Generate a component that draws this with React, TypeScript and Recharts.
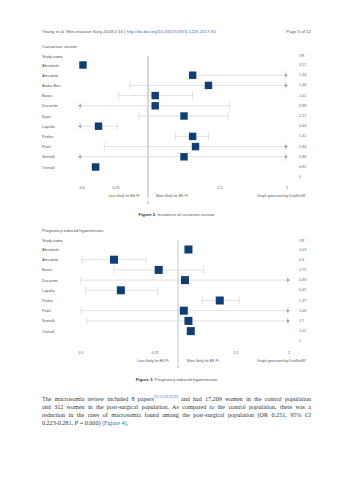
import React from 'react';
import { ScatterChart, Scatter, XAxis, YAxis, ErrorBar, ReferenceLine } from 'recharts';

// ---- Figure 2: Caesarean section ----
const csStudies = ['Abumlaile', 'Amsalem', 'Andra-Bori', 'Baros', 'Ducarme', 'Kjaer', 'Lapolla', 'Parker', 'Patel', 'Santulli', 'Overall'];
const csOrLabels = ['0.52', '1.34', '1.46', '1.01', '0.98', '1.21', '0.44', '1.32', '1.84', '0.86', '0.82'];
const csEst = [0.41, 1.31, 1.42, 1.05, 1.05, 1.25, 0.57, 1.31, 1.33, 1.25, 0.54];
const csLow = [0.41, 1.31, 0.86, 0.77, 0.3, 0.93, 0.3, 1.19, 0.63, 0.3, 0.5];
const csHigh = [0.41, 2.5, 2.5, 1.31, 1.57, 1.56, 0.76, 1.42, 2.5, 2.5, 0.58];
const csTicks = [0.4, 0.75, 1, 1.5, 2];
const csTickLabels = ['0.4', '0.75', '1', '1.5', '2'];

// ---- Figure 3: Pregnancy-induced hypertension ----
const pihStudies = ['Abumlaile', 'Amsalem', 'Baros', 'Ducarme', 'Lapolla', 'Parker', 'Patel', 'Santulli', 'Overall'];
const pihOrLabels = ['1.03', '0.3', '0.75', '0.93', '0.35', '1.37', '1.08', '1.7', '1.01'];
const pihEst = [1.09, 0.39, 0.79, 1.06, 0.45, 1.36, 1.05, 1.09, 1.11];
const pihLow = [1.09, 0.11, 0.39, 0.1, 0.14, 1.21, 0.1, 0.15, 1.09];
const pihHigh = [1.09, 0.67, 1.22, 2.5, 0.78, 1.53, 2.5, 2.5, 1.13];
const pihTicks = [0.1, 0.75, 1, 1.5, 2];
const pihTickLabels = ['0.1', '0.75', '1', '1.5', '2'];

const headerLeft = 'Young et al. Mini-invasive Surg 2018;2:16';
const headerLink = 'http://dx.doi.org/10.20517/2574-1225.2017.50';
const headerPage = 'Page 5 of 12';
const footerLabels = ['Less likely for BS Pt', 'More likely for BS Pt', 'Graph generated by DistillerSR'];

const SANS = '"Liberation Sans", Arial, sans-serif';
const SERIF = '"Liberation Serif", "Times New Roman", serif';

type FP = {
  studies: string[]; orLabels: string[]; est: number[]; low: number[]; high: number[];
  ticks: number[]; tickLabels: string[]; tickPx: number[];
  top: number; height: number; left: number; right: number; domain: [number, number];
  yDomain: [number, number]; mTop: number; mBottom: number;
  labelOff: number; oneOff: number; refFrom: number; refTo: number; refColor: string;
  zeroColor: string; markerSize: number;
};

function makeT(vals: number[], px: number[]) {
  return (v: number) => {
    const n = vals.length;
    let i = 0;
    if (v <= vals[0]) i = 0;
    else if (v >= vals[n - 1]) i = n - 2;
    else { while (i < n - 2 && v > vals[i + 1]) i++; }
    return px[i] + ((v - vals[i]) / (vals[i + 1] - vals[i])) * (px[i + 1] - px[i]);
  };
}

function Forest(p: FP) {
  const t = makeT(p.ticks, p.tickPx);
  const minPx = p.tickPx[0] - 2;
  const maxPx = p.tickPx[p.tickPx.length - 1] - 1;
  const clamp = (x: number) => Math.max(minPx, Math.min(maxPx, x));
  const data = p.studies.map((s, i) => {
    const x = t(p.est[i]);
    const lo = clamp(t(p.low[i]));
    const hi = clamp(t(p.high[i]));
    return { x, y: i, err: [x - lo, hi - x] };
  });
  const leftArrows = p.studies.map((s, i) => ({ x: minPx, y: i, out: p.low[i] < p.ticks[0] })).filter((d) => d.out);
  const rightArrows = p.studies.map((s, i) => ({ x: maxPx, y: i, out: p.high[i] > p.ticks[p.ticks.length - 1] })).filter((d) => d.out);
  const xTicks = p.ticks.map(t);
  const yTicks = [-0.85, ...p.studies.map((s, i) => i), p.studies.length];

  const RowTick = (props: any) => {
    const { y, payload } = props;
    const v = Math.round(payload.value * 100) / 100;
    let name = '';
    let or = '';
    let orColor = '#666';
    if (v < 0) { name = 'Study name'; or = 'OR'; }
    else if (v < p.studies.length) { name = p.studies[Math.round(v)]; or = p.orLabels[Math.round(v)]; }
    else { or = '0'; orColor = p.zeroColor; }
    return (
      <g>
        <text x={42} y={y} dominantBaseline="central" fontSize={3.9} fill="#555" fontFamily={SANS}>{name}</text>
        <text x={299} y={y} dominantBaseline="central" fontSize={3.7} fill={orColor} fontFamily={SANS}>{or}</text>
      </g>
    );
  };

  const XTick = (props: any) => {
    const { x, y, payload } = props;
    let idx = 0;
    let best = 1e9;
    xTicks.forEach((tv, i) => { const d = Math.abs(tv - payload.value); if (d < best) { best = d; idx = i; } });
    const isOne = p.ticks[idx] === 1;
    return (
      <text x={x} y={y + (isOne ? p.oneOff : p.labelOff)} textAnchor="middle" dominantBaseline="central" fontSize={3.7} fill="#555" fontFamily={SANS}>
        {p.tickLabels[idx]}
      </text>
    );
  };

  const square = (sp: any) => (
    <rect x={sp.cx - p.markerSize / 2} y={sp.cy - p.markerSize / 2} width={p.markerSize} height={p.markerSize} fill="#0d3e74" />
  );
  const leftTri = (sp: any) => (
    <polygon points={`${sp.cx - 2},${sp.cy} ${sp.cx + 1.2},${sp.cy - 1.8} ${sp.cx + 1.2},${sp.cy + 1.8}`} fill="#9aa0a6" />
  );
  const rightTri = (sp: any) => (
    <polygon points={`${sp.cx + 2},${sp.cy} ${sp.cx - 1.2},${sp.cy - 1.8} ${sp.cx - 1.2},${sp.cy + 1.8}`} fill="#9aa0a6" />
  );
  const xOne = t(1);

  return (
    <div style={{ position: 'absolute', left: 0, top: p.top }}>
      <ScatterChart width={353} height={p.height} margin={{ top: p.mTop, right: p.right, bottom: p.mBottom, left: p.left - 1 }}>
        <XAxis type="number" dataKey="x" domain={p.domain} allowDataOverflow ticks={xTicks} interval={0}
          axisLine={false} tickLine={false} tickSize={0} tickMargin={0} height={20} tick={XTick} />
        <YAxis type="number" dataKey="y" domain={p.yDomain} allowDataOverflow reversed ticks={yTicks} interval={0}
          width={1} axisLine={false} tickLine={false} tickSize={0} tickMargin={0} tick={RowTick} />
        <ReferenceLine segment={[{ x: xOne, y: p.refFrom }, { x: xOne, y: p.refTo }]} stroke={p.refColor} strokeWidth={1} ifOverflow="visible" />
        <Scatter data={data} isAnimationActive={false} shape={square}>
          <ErrorBar dataKey="err" direction="x" width={4} stroke="#d6d9dc" strokeWidth={0.8} isAnimationActive={false} />
        </Scatter>
        <Scatter data={leftArrows} isAnimationActive={false} shape={leftTri} />
        <Scatter data={rightArrows} isAnimationActive={false} shape={rightTri} />
      </ScatterChart>
    </div>
  );
}

function Txt(props: { x: number; y: number; size: number; children: any; color?: string; anchor?: 'start' | 'middle' | 'end'; weight?: number; family?: string }) {
  const { x, y, size, children, color = '#555', anchor = 'start', weight = 400, family = SANS } = props;
  const tx = anchor === 'middle' ? '-50%' : anchor === 'end' ? '-100%' : '0';
  return (
    <div style={{ position: 'absolute', left: x, top: y, transform: `translate(${tx}, -50%)`, fontSize: size, lineHeight: 1, color, fontWeight: weight, fontFamily: family, whiteSpace: 'nowrap' }}>
      {children}
    </div>
  );
}

export default function App() {
  const lineStyle: React.CSSProperties = { position: 'absolute', left: 42, width: 269, fontFamily: SERIF, fontSize: 6.1, lineHeight: '8px', color: '#333', whiteSpace: 'nowrap', textAlign: 'justify', textAlignLast: 'justify' as any };
  const blue = '#2f6db5';
  return (
    <div style={{ position: 'absolute', left: 0, top: 0, width: 353, height: 480, background: '#fff', overflow: 'hidden' }}>
      <Txt x={42} y={31.5} size={4.4} color="#555">
        {headerLeft} | <span style={{ color: blue }}>{headerLink}</span>
      </Txt>
      <Txt x={311} y={31.5} size={4.4} anchor="end">{headerPage}</Txt>
      <Txt x={42} y={46.5} size={4.2}>Caesarean section</Txt>

      <Forest studies={csStudies} orLabels={csOrLabels} est={csEst} low={csLow} high={csHigh}
        ticks={csTicks} tickLabels={csTickLabels} tickPx={[0, 34, 66, 138, 205]}
        top={45} height={165} left={78} right={64} domain={[-4, 207]}
        yDomain={[-1.5, 11.5]} mTop={4.7} mBottom={7.7}
        labelOff={5.2} oneOff={20.5} refFrom={-0.9} refTo={13.0} refColor="#a9aeb3"
        zeroColor="#777" markerSize={7.4} />
      <Txt x={124} y={196.8} size={3.5} anchor="middle">{footerLabels[0]}</Txt>
      <Txt x={156} y={196.8} size={3.5}>{footerLabels[1]}</Txt>
      <Txt x={257} y={196.8} size={3.5}>{footerLabels[2]}</Txt>
      <Txt x={176.5} y={214.5} size={4.3} anchor="middle">
        <b style={{ color: '#333' }}>Figure 2.</b> Incidence of cesarean section
      </Txt>

      <Txt x={42} y={230.5} size={4.2}>Pregnancy-induced hypertension</Txt>
      <Forest studies={pihStudies} orLabels={pihOrLabels} est={pihEst} low={pihLow} high={pihHigh}
        ticks={pihTicks} tickLabels={pihTickLabels} tickPx={[0, 74, 97, 155, 208]}
        top={230} height={150} left={77} right={62} domain={[-4, 210]}
        yDomain={[-1.5, 9.5]} mTop={4.2} mBottom={13.6}
        labelOff={6.6} oneOff={20.4} refFrom={-0.95} refTo={11.2} refColor="#b7c8d6"
        zeroColor="#e06a6a" markerSize={8} />
      <Txt x={153} y={361.8} size={3.5} anchor="middle">{footerLabels[0]}</Txt>
      <Txt x={187} y={361.8} size={3.5}>{footerLabels[1]}</Txt>
      <Txt x={257} y={361.8} size={3.5}>{footerLabels[2]}</Txt>
      <Txt x={176.5} y={380} size={4.3} anchor="middle">
        <b style={{ color: '#333' }}>Figure 3.</b> Pregnancy induced hypertension
      </Txt>

      <div style={{ ...lineStyle, top: 394.5 }}>
        The macrosomia review included 8 papers<sup style={{ fontSize: 3.6, color: blue, verticalAlign: 'top', lineHeight: '4px' }}>[21-23,26,28,29]</sup> and had 17,209 women in the control population
      </div>
      <div style={{ ...lineStyle, top: 402.7 }}>
        and 312 women in the post-surgical population. As compared to the control population, there was a
      </div>
      <div style={{ ...lineStyle, top: 410.5 }}>
        reduction in the rates of macrosomia found among the post-surgical population (OR 0.251, 95% CI
      </div>
      <div style={{ ...lineStyle, top: 418.5, textAlign: 'left', textAlignLast: 'left' as any }}>
        0.223-0.281, <i>P</i> = 0.000) <span style={{ color: blue }}>[Figure 4]</span>.
      </div>
    </div>
  );
}
